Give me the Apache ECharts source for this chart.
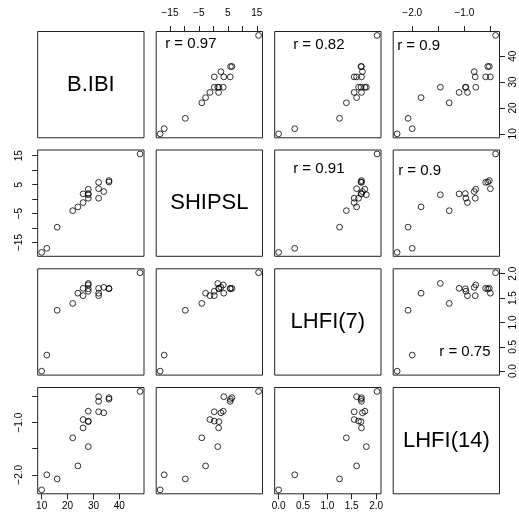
<!DOCTYPE html>
<html><head><meta charset="utf-8">
<script src="https://cdn.jsdelivr.net/npm/echarts@6/dist/echarts.min.js"></script>
<style>html,body{margin:0;padding:0;background:#fff}#c{width:519px;height:521px}</style>
</head><body><div id="c"></div>
<script>
const varNames = ['B.IBI', 'SHIPSL', 'LHFI(7)', 'LHFI(14)'];
const bIBI   = [10, 12, 16, 22, 24, 26, 26, 28, 28, 28, 28, 32, 32, 32, 34, 36, 36, 48];
const shipsl = [-18.4, -17.0, -9.7, -4.0, -2.7, -1.2, 1.8, 1.5, 3.4, 0.3, 1.9, 3.6, 5.8, 0.3, 2.6, 6.4, 5.9, 15.6];
const lhfi7  = [0.00, 0.33, 1.25, 1.39, 1.60, 1.55, 1.70, 1.80, 1.77, 1.64, 1.69, 1.60, 1.70, 1.55, 1.72, 1.70, 1.69, 2.02];
const lhfi14 = [-2.29, -2.00, -2.08, -1.29, -1.83, -0.94, -1.10, -1.46, -0.78, -0.97, -0.98, -0.50, -0.59, -0.79, -0.81, -0.52, -0.55, -0.40];

const tickBIBI = [10, 20, 30, 40];
const labelBIBI = [10, 20, 30, 40];
const tickSHIPSL = [-15, -10, -5, 0, 5, 10, 15];
const labelSHIPSL = [-15, -5, 5, 15];
const tickL7 = [0, 0.5, 1, 1.5, 2];
const labelL7 = [0, 0.5, 1, 1.5, 2];
const tickL14 = [-2, -1.5, -1, -0.5];
const labelL14 = [-2, -1];
const labelDecimals = [0, 0, 1, 1];

// correlation labels for upper panels, in order (1,2),(1,3),(1,4),(2,3),(2,4),(3,4)
const rLabels = ['r = 0.97', 'r = 0.82', 'r = 0.9', 'r = 0.91', 'r = 0.9', 'r = 0.75'];

// ---- layout ----
const vars = [bIBI, shipsl, lhfi7, lhfi14];
const ticks = [tickBIBI, tickSHIPSL, tickL7, tickL14];
const labels = [labelBIBI, labelSHIPSL, labelL7, labelL14];
const colLeft = [37.7, 156.2, 274.7, 393.2];
const rowTop = [31.5, 150, 268.8, 387.5];
const S = 106.3;
const FONT = 'Liberation Sans, Arial, Helvetica, sans-serif';
const INK = '#222';

function range(arr) {
  const mn = Math.min(...arr), mx = Math.max(...arr), p = (mx - mn) * 0.04;
  return [mn - p, mx + p];
}
function fmt(v, d) { return v.toFixed(d).replace('-', '\u2212'); }

const grids = [], xAxes = [], yAxes = [], series = [], graphics = [];
let g = 0;
for (let i = 0; i < 4; i++) {
  for (let j = 0; j < 4; j++) {
    grids.push({ left: colLeft[j], top: rowTop[i], width: S, height: S, show: true,
      borderColor: INK, borderWidth: 1, backgroundColor: 'transparent' });
    const xr = range(vars[j]), yr = range(vars[i]);
    const xTop = (i === 0 && (j === 1 || j === 3));
    const xBottom = (i === 3 && (j === 0 || j === 2));
    const yLeft = (j === 0 && (i === 1 || i === 3));
    const yRight = (j === 3 && (i === 0 || i === 2));
    const showX = xTop || xBottom, showY = yLeft || yRight;
    const dj = labelDecimals[j], di = labelDecimals[i];
    xAxes.push({ type: 'value', gridIndex: g, min: xr[0], max: xr[1],
      position: xTop ? 'top' : 'bottom',
      axisLine: { show: false }, splitLine: { show: false },
      axisTick: { show: showX, length: 5.5, lineStyle: { color: INK }, customValues: ticks[j] },
      axisLabel: { show: showX, customValues: labels[j], margin: xTop ? 13 : 7.5,
        fontFamily: FONT, fontSize: 10, color: '#000', formatter: v => fmt(v, dj) } });
    yAxes.push({ type: 'value', gridIndex: g, min: yr[0], max: yr[1],
      position: yRight ? 'right' : 'left',
      axisLine: { show: false }, splitLine: { show: false },
      axisTick: { show: showY, length: 5.5, lineStyle: { color: INK }, customValues: ticks[i] },
      axisLabel: { show: showY, customValues: labels[i], rotate: 90, margin: yLeft ? 13 : 9,
        fontFamily: FONT, fontSize: 10, color: '#000', formatter: v => fmt(v, di) } });
    if (i !== j) {
      series.push({ type: 'scatter', xAxisIndex: g, yAxisIndex: g,
        data: vars[j].map((x, k) => [x, vars[i][k]]),
        symbol: 'circle', symbolSize: 5.8, silent: true,
        itemStyle: { color: 'rgba(0,0,0,0)', borderColor: '#000', borderWidth: 1 } });
    } else {
      graphics.push({ type: 'text', x: colLeft[j] + S / 2, y: rowTop[i] + S / 2, silent: true,
        style: { text: varNames[i], font: '22px ' + FONT, fill: '#000',
          textAlign: 'center', textVerticalAlign: 'middle' } });
    }
    g++;
  }
}

// positions of correlation labels within their panels
const rPos = [
  { i: 0, j: 1, dx: 9, dy: 12.5, al: 'left' },
  { i: 0, j: 2, dx: 18.5, dy: 13, al: 'left' },
  { i: 0, j: 3, dx: 4, dy: 14, al: 'left' },
  { i: 1, j: 2, dx: 18.5, dy: 19.3, al: 'left' },
  { i: 1, j: 3, dx: 5, dy: 20.5, al: 'left' },
  { i: 2, j: 3, dx: S - 9, dy: S - 23, al: 'right' }
];
rPos.forEach((p, k) => {
  graphics.push({ type: 'text', x: colLeft[p.j] + p.dx, y: rowTop[p.i] + p.dy, silent: true,
    style: { text: rLabels[k], font: '15px ' + FONT, fill: '#000',
      textAlign: p.al, textVerticalAlign: 'middle' } });
});

const chart = echarts.init(document.getElementById('c'), null, { renderer: 'canvas' });
chart.setOption({
  animation: false,
  backgroundColor: '#fff',
  grid: grids, xAxis: xAxes, yAxis: yAxes, series: series,
  graphic: { elements: graphics }
});
</script></body></html>
